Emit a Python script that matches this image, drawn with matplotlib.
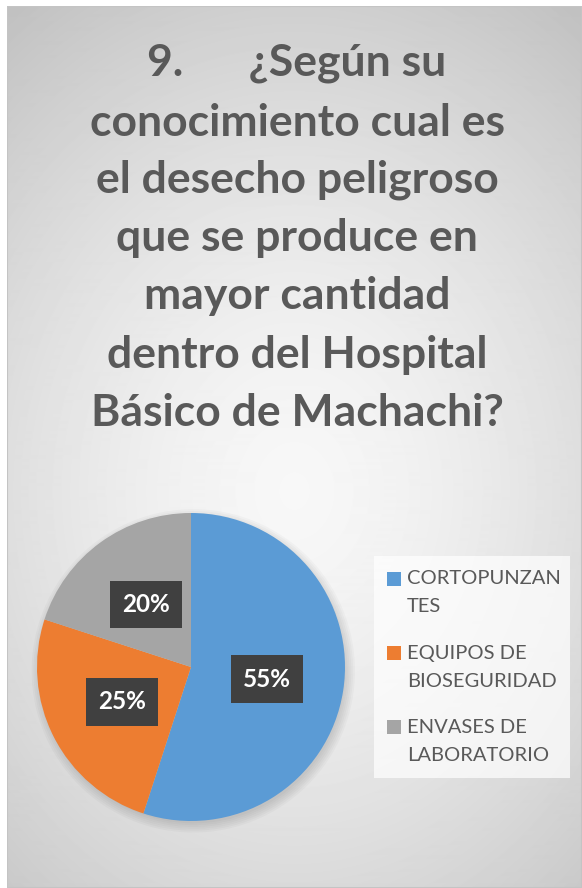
import numpy as np
import matplotlib.pyplot as plt
from matplotlib.patches import Rectangle, Circle

# data
categories = ['CORTOPUNZANTES', 'EQUIPOS DE BIOSEGURIDAD', 'ENVASES DE LABORATORIO']
legend_labels = ['CORTOPUNZAN\nTES', 'EQUIPOS DE\nBIOSEGURIDAD', 'ENVASES DE\nLABORATORIO']
values = [55, 25, 20]
colors = ['#5B9BD5', '#ED7D31', '#A5A5A5']
title_lines = ['9.      \u00bfSeg\u00fan su', 'conocimiento cual es', 'el desecho peligroso',
               'que se produce en', 'mayor cantidad', 'dentro del Hospital',
               'B\u00e1sico de Machachi?']

W, H = 582, 888
FONT = ['Lato', 'DejaVu Sans']
fig = plt.figure(figsize=(W / 100, H / 100), dpi=100)
fig.patch.set_facecolor('white')

# background panel with a radial gradient
x0, y1 = 7, 6
bg = fig.add_axes([x0 / W, 0, 1 - x0 / W, 1 - y1 / H])
yy, xx = np.mgrid[0:H - y1, 0:W - x0]
cx, cy = (W - x0) / 2, (H - y1) * 0.55
r = np.sqrt(((xx - cx) / ((W - x0) * 0.75)) ** 2 + ((yy - cy) / ((H - y1) * 0.6)) ** 2)
shade = 0.97 - 0.18 * np.clip(r, 0, 1.2) ** 1.5
bg.imshow(shade, cmap='gray', vmin=0, vmax=1, aspect='auto', interpolation='bilinear')
bg.set_axis_off()
bg.add_patch(Rectangle((0, 0), 1, 1, transform=bg.transAxes, fill=False,
                       edgecolor='#c4c4c4', lw=1.5))

# title
ty = [63, 123, 180, 238, 296, 355, 413]
for line, y in zip(title_lines, ty):
    fig.text(297 / W, 1 - y / H, line, ha='center', va='center', fontsize=32,
             fontweight='bold', color='#595959', family=FONT)

# pie
pcx, pcy, pr = 191, 667, 154
pad = 1.1
ax = fig.add_axes([(pcx - pr * pad) / W, 1 - (pcy + pr * pad) / H,
                   2 * pr * pad / W, 2 * pr * pad / H])
# soft shadow
for k in range(6):
    ax.add_patch(Circle((0.015, -0.025), 0.99 + 0.012 * k, color='black',
                        alpha=0.025, lw=0, zorder=0))
wedges, texts, autotexts = ax.pie(values, colors=colors, startangle=90, counterclock=False,
                                  autopct='%1.0f%%', pctdistance=0.5,
                                  wedgeprops=dict(linewidth=0))
for t in autotexts:
    t.set_color('white')
    t.set_fontsize(17.5)
    t.set_fontweight('bold')
    t.set_family(FONT)
    t.set_bbox(dict(boxstyle='square,pad=0.5', facecolor='#404040', edgecolor='none'))
ax.set_xlim(-pad, pad)
ax.set_ylim(-pad, pad)
ax.set_axis_off()

# legend (drawn by hand to keep the wrapped labels)
fig.patches.append(Rectangle((374 / W, 1 - 778 / H), 196 / W, 222 / H,
                             transform=fig.transFigure, facecolor='white',
                             edgecolor='none', alpha=0.7))
ly = [579, 653, 727]
for lab, c, y in zip(legend_labels, colors, ly):
    fig.patches.append(Rectangle((387 / W, 1 - (y + 7) / H), 14 / W, 14 / H,
                                 transform=fig.transFigure, facecolor=c, edgecolor='none'))
    for i, part in enumerate(lab.split('\n')):
        fig.text(407 / W, 1 - (y + 28 * i) / H, part, ha='left', va='center',
                 fontsize=14.5, color='#595959', family=FONT)

fig.savefig('out.png', dpi=100)
